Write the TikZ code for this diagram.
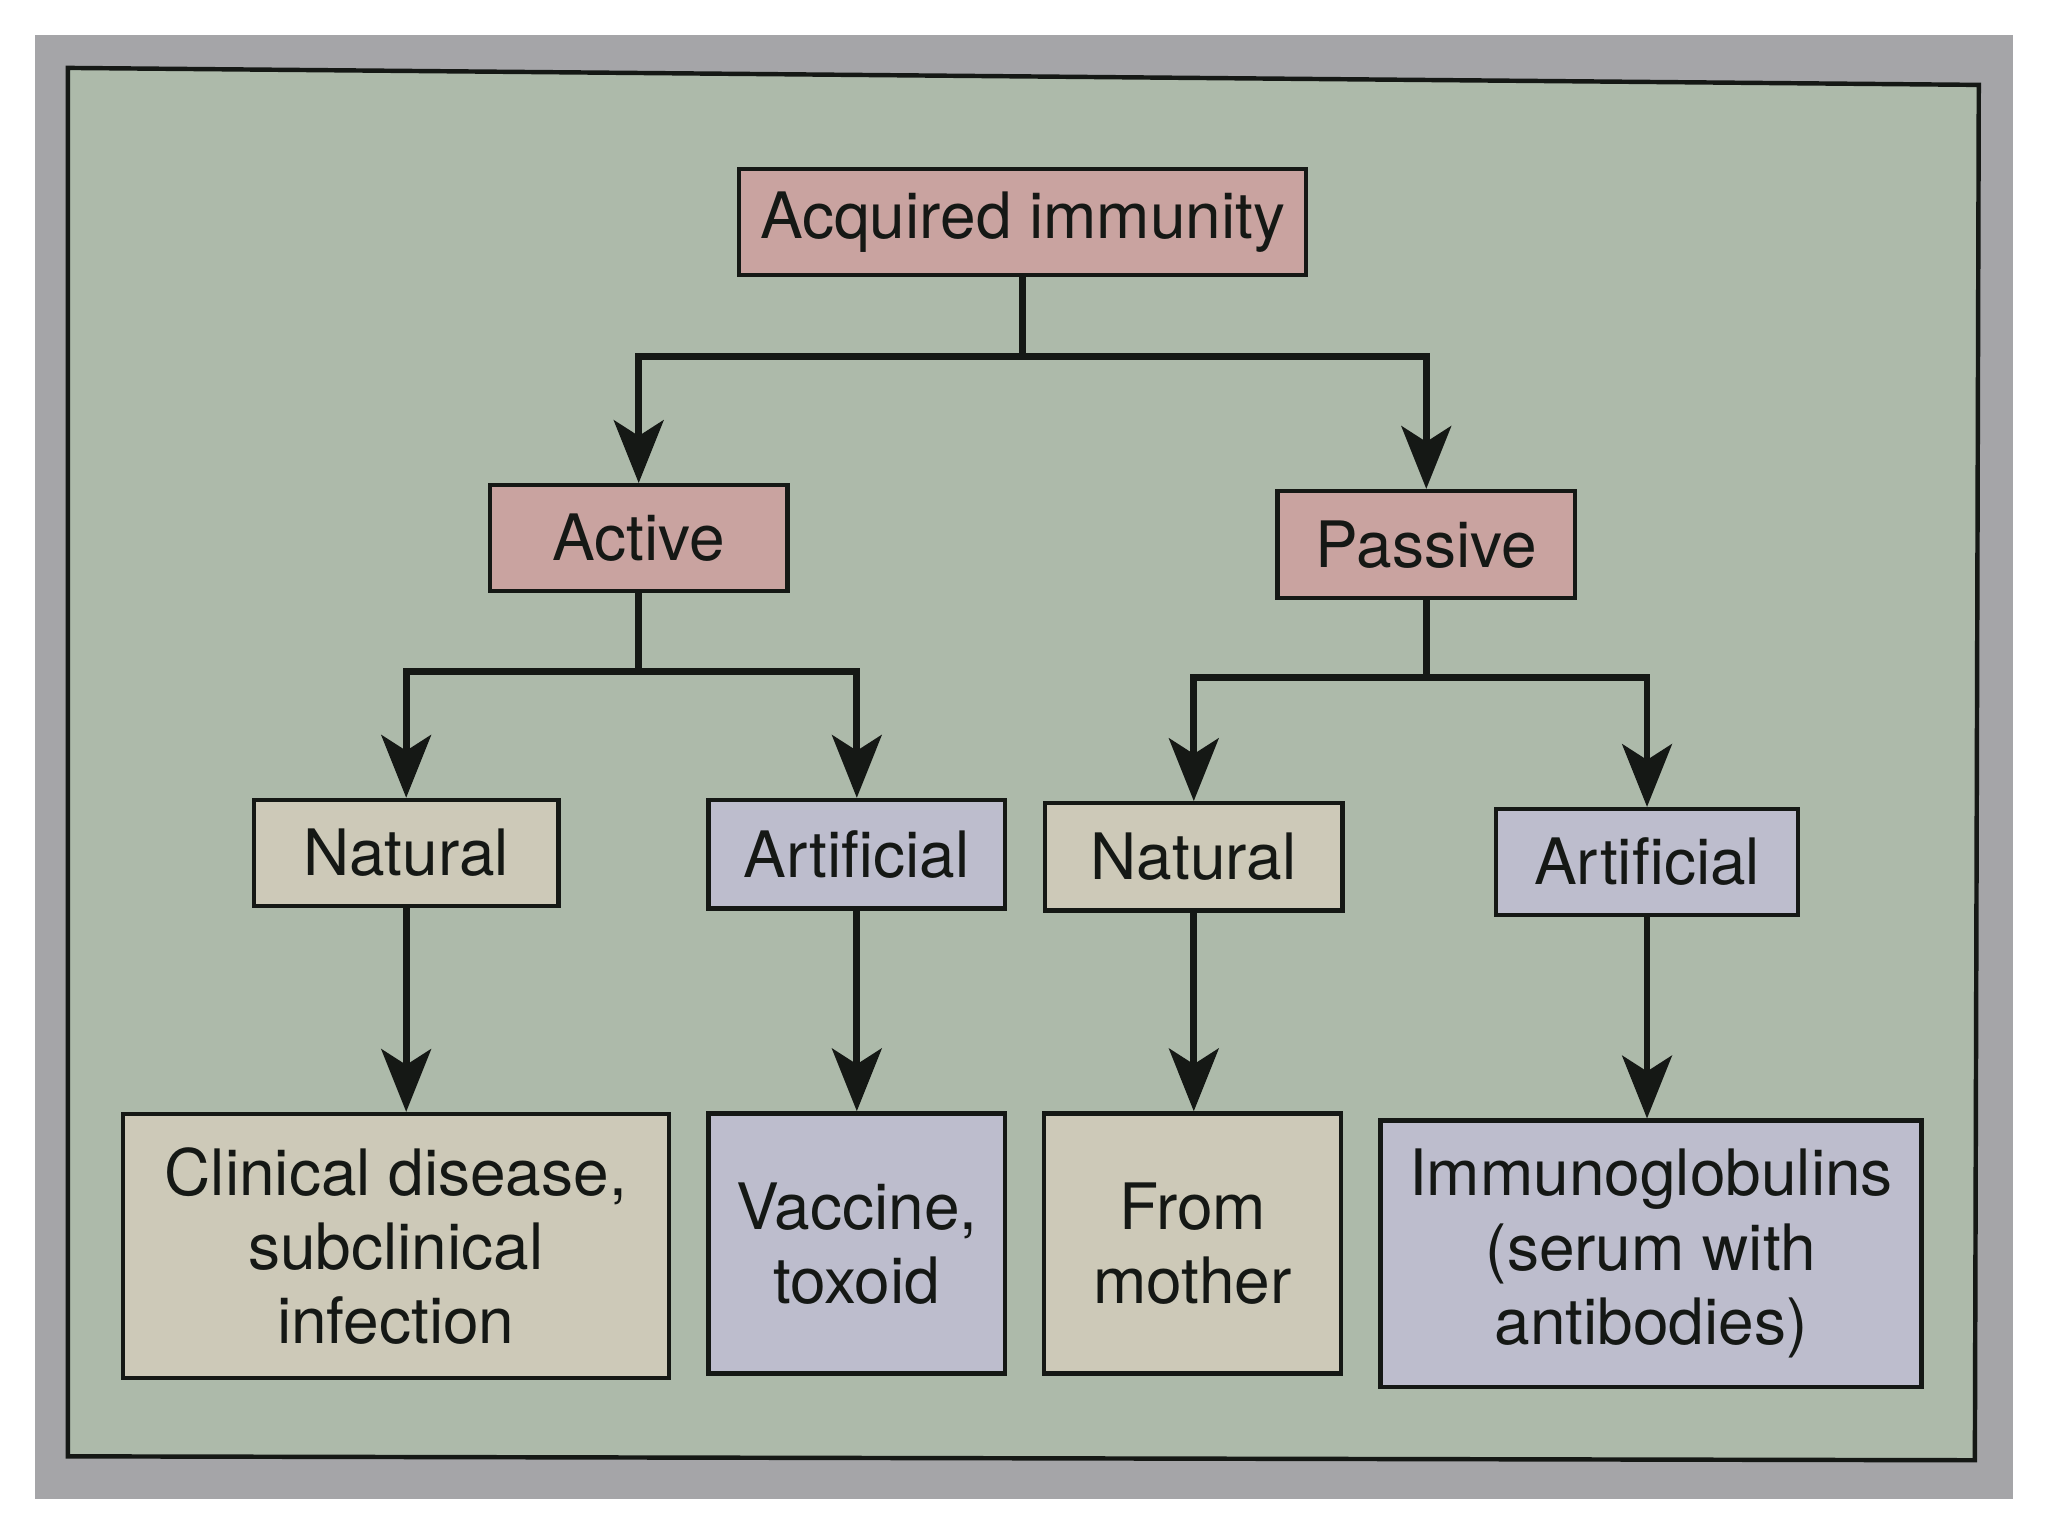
\documentclass[tikz,border=0pt]{standalone}
\usepackage{fontspec}
\setmainfont{TeX Gyre Heros}
\usetikzlibrary{arrows.meta}
\definecolor{pagegray}{HTML}{A5A5A8}
\definecolor{panelgreen}{HTML}{ADBAAA}
\definecolor{pinkfill}{HTML}{C9A3A0}
\definecolor{natfill}{HTML}{CDC9B8}
\definecolor{artfill}{HTML}{BDBDCD}
\definecolor{inkc}{HTML}{151815}
\begin{document}
\begin{tikzpicture}[x=0.5pt,y=-0.5pt,
  box/.style={draw=inkc,line width=1.7pt,inner sep=0pt,align=center,text=inkc,
    font=\fontsize{24.5}{28.5}\selectfont},
  pinkbox/.style={box,fill=pinkfill},
  natbox/.style={box,fill=natfill},
  artbox/.style={box,fill=artfill},
  conn/.style={draw=inkc,line width=2.6pt},
  arr/.style={conn,-{Stealth[length=24pt,width=19pt,inset=6pt]}}]
\useasboundingbox (0,0) rectangle (1568,1176);
\fill[white] (0,0) rectangle (1568,1176);
\fill[pagegray] (27,27) rectangle (1541,1148);
\filldraw[fill=panelgreen,draw=inkc,line width=1.7pt]
  (52,52) -- (1515,65) -- (1512,1118) -- (52,1115) -- cycle;
% level 0
\node[pinkbox,minimum width=217pt,minimum height=40.5pt] (acq) at (783,170) {Acquired immunity};
% level 1
\node[pinkbox,minimum width=114pt,minimum height=40.5pt] (act) at (489,412) {Active};
\node[pinkbox,minimum width=114pt,minimum height=41pt] (pas) at (1092,417) {Passive};
% level 2
\node[natbox,minimum width=116.5pt,minimum height=40.5pt] (natL) at (311,653) {Natural};
\node[artbox,minimum width=113.5pt,minimum height=41.5pt] (artL) at (656,654) {Artificial};
\node[natbox,minimum width=114pt,minimum height=41pt] (natR) at (914,656) {Natural};
\node[artbox,minimum width=115.5pt,minimum height=40.5pt] (artR) at (1261,660) {Artificial};
% level 3
\node[natbox,minimum width=209pt,minimum height=101pt] (clin) at (303,954) {Clinical disease,\\subclinical\\infection};
\node[artbox,minimum width=113.5pt,minimum height=99.5pt] (vac) at (656,952) {Vaccine,\\toxoid};
\node[natbox,minimum width=113.5pt,minimum height=99.5pt] (mot) at (913,952) {From\\mother};
\node[artbox,minimum width=207pt,minimum height=102pt] (igs) at (1264,960) {Immunoglobulins\\(serum with\\antibodies)};
% connectors
\draw[conn] (acq.south) -- ++(0,61) coordinate (j0);
\draw[arr] (j0) -| (act.north);
\draw[arr] (j0) -| (pas.north);
\draw[conn] (act.south) -- ++(0,60) coordinate (j1);
\draw[arr] (j1) -| (natL.north);
\draw[arr] (j1) -| (artL.north);
\draw[conn] (pas.south) -- ++(0,59) coordinate (j2);
\draw[arr] (j2) -| (natR.north);
\draw[arr] (j2) -| (artR.north);
\draw[arr] (natL.south) -- (natL.south |- clin.north);
\draw[arr] (artL.south) -- (artL.south |- vac.north);
\draw[arr] (natR.south) -- (natR.south |- mot.north);
\draw[arr] (artR.south) -- (artR.south |- igs.north);
\end{tikzpicture}
\end{document}
